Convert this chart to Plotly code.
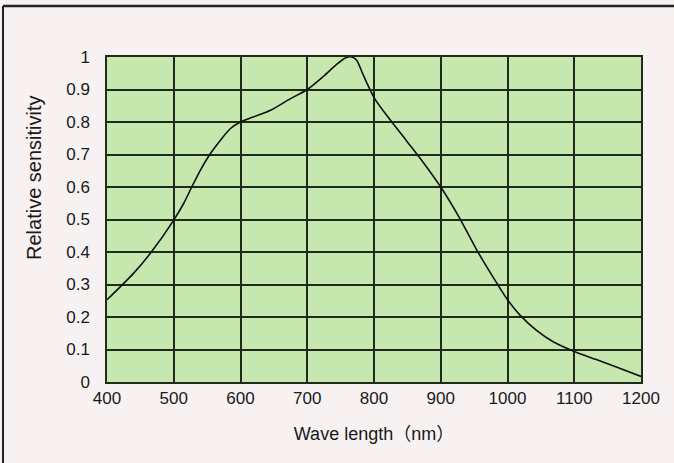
import plotly.graph_objects as go

wavelength = [400, 440, 465, 500, 515, 527, 540, 555, 570, 585, 600, 620, 645, 675, 700,
              724, 744, 757, 767, 774, 784, 801, 823, 848, 873, 900, 927, 954, 984,
              1000, 1019, 1044, 1069, 1100, 1133, 1167, 1200]
sensitivity = [0.253, 0.335, 0.396, 0.498, 0.55, 0.60, 0.652, 0.703, 0.744, 0.78, 0.80,
               0.816, 0.836, 0.872, 0.90, 0.94, 0.977, 0.997, 1.0, 0.99, 0.944,
               0.872, 0.81, 0.744, 0.678, 0.60, 0.509, 0.406, 0.304, 0.253, 0.205, 0.158,
               0.123, 0.094, 0.069, 0.043, 0.017]
x_ticks = [400, 500, 600, 700, 800, 900, 1000, 1100, 1200]
y_ticks = [0, 0.1, 0.2, 0.3, 0.4, 0.5, 0.6, 0.7, 0.8, 0.9, 1]
y_tick_labels = ["0", "0.1", "0.2", "0.3", "0.4", "0.5", "0.6", "0.7", "0.8", "0.9", "1"]

grid_color = "#1f2a1c"
font_family = "Liberation Sans, Arial, Noto Sans CJK JP, sans-serif"

W, H = 674, 463
ML, MR, MT, MB = 107, 33, 57, 81
PW, PH = W - ML - MR, H - MT - MB

fig = go.Figure()
fig.add_trace(go.Scatter(
    x=wavelength, y=sensitivity, mode="lines",
    line=dict(color="#111111", width=1.6, shape="spline", smoothing=0.8),
    showlegend=False, hoverinfo="x+y",
))

fig.update_layout(
    width=W, height=H,
    margin=dict(l=ML, r=MR, t=MT, b=MB),
    paper_bgcolor="#f8f1f1",
    plot_bgcolor="#c6e7ae",
    font=dict(family=font_family, size=17, color="#1a1a1a"),
    xaxis=dict(
        range=[400, 1200], tickvals=x_ticks, ticks="", showgrid=True,
        gridcolor=grid_color, gridwidth=1.5, zeroline=False, automargin=False,
        showline=True, linecolor=grid_color, linewidth=1.5, mirror=True,
        title=dict(text="Wave length（nm）", font=dict(size=18), standoff=20),
        tickfont=dict(size=17),
    ),
    yaxis=dict(
        range=[0, 1], tickvals=y_ticks, ticktext=y_tick_labels, ticks="",
        showgrid=True, gridcolor=grid_color, gridwidth=1.5, zeroline=False,
        automargin=False,
        showline=True, linecolor=grid_color, linewidth=1.5, mirror=True,
        tickfont=dict(size=17), ticklabelstandoff=12,
    ),
    annotations=[
        dict(text="Relative sensitivity", xref="paper", yref="paper",
             x=(34 - ML) / PW, y=(H - MB - 178) / PH, xanchor="center", yanchor="middle",
             textangle=-90, showarrow=False, font=dict(size=20, color="#1a1a1a")),
    ],
    shapes=[
        dict(type="line", xref="paper", yref="paper",
             x0=(3 - ML) / PW, x1=(W - ML) / PW, y0=(H - MB - 6) / PH, y1=(H - MB - 6) / PH,
             line=dict(color="#222222", width=2.5)),
        dict(type="line", xref="paper", yref="paper",
             x0=(3 - ML) / PW, x1=(3 - ML) / PW, y0=-MB / PH, y1=(H - MB - 6) / PH,
             line=dict(color="#222222", width=2)),
    ],
)

fig.write_html(
    "out.html",
    config={"displayModeBar": False},
    post_script="document.body.style.margin='0';document.body.style.background='#f8f1f1';",
)
